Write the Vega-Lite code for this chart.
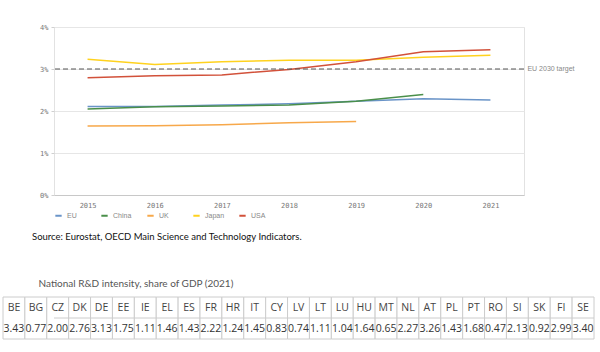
{
  "$schema": "https://vega.github.io/schema/vega-lite/v6.json",
  "padding": {"left": 2, "top": 22, "right": 0, "bottom": 0},
  "columns": 1,
  "align": "none",
  "spacing": 36,
  "resolve": {"legend": {"color": "independent"}, "scale": {"color": "independent"}},
  "config": {"view": {"stroke": null}},
  "datasets": {
    "lines": [
      {"country": "EU", "year": "2015", "value": 2.11},
      {"country": "EU", "year": "2016", "value": 2.11},
      {"country": "EU", "year": "2017", "value": 2.14},
      {"country": "EU", "year": "2018", "value": 2.17},
      {"country": "EU", "year": "2019", "value": 2.23},
      {"country": "EU", "year": "2020", "value": 2.29},
      {"country": "EU", "year": "2021", "value": 2.26},
      {"country": "China", "year": "2015", "value": 2.05},
      {"country": "China", "year": "2016", "value": 2.10},
      {"country": "China", "year": "2017", "value": 2.12},
      {"country": "China", "year": "2018", "value": 2.14},
      {"country": "China", "year": "2019", "value": 2.23},
      {"country": "China", "year": "2020", "value": 2.39},
      {"country": "UK", "year": "2015", "value": 1.64},
      {"country": "UK", "year": "2016", "value": 1.65},
      {"country": "UK", "year": "2017", "value": 1.67},
      {"country": "UK", "year": "2018", "value": 1.72},
      {"country": "UK", "year": "2019", "value": 1.75},
      {"country": "Japan", "year": "2015", "value": 3.23},
      {"country": "Japan", "year": "2016", "value": 3.11},
      {"country": "Japan", "year": "2017", "value": 3.17},
      {"country": "Japan", "year": "2018", "value": 3.21},
      {"country": "Japan", "year": "2019", "value": 3.21},
      {"country": "Japan", "year": "2020", "value": 3.28},
      {"country": "Japan", "year": "2021", "value": 3.33},
      {"country": "USA", "year": "2015", "value": 2.79},
      {"country": "USA", "year": "2016", "value": 2.84},
      {"country": "USA", "year": "2017", "value": 2.86},
      {"country": "USA", "year": "2018", "value": 2.99},
      {"country": "USA", "year": "2019", "value": 3.17},
      {"country": "USA", "year": "2020", "value": 3.41},
      {"country": "USA", "year": "2021", "value": 3.46}
    ],
    "target": [{"target": 3, "label": "EU 2030 target"}],
    "table": [
      {"code": "BE", "value": 3.43}, {"code": "BG", "value": 0.77}, {"code": "CZ", "value": 2.00},
      {"code": "DK", "value": 2.76}, {"code": "DE", "value": 3.13}, {"code": "EE", "value": 1.75},
      {"code": "IE", "value": 1.11}, {"code": "EL", "value": 1.46}, {"code": "ES", "value": 1.43},
      {"code": "FR", "value": 2.22}, {"code": "HR", "value": 1.24}, {"code": "IT", "value": 1.45},
      {"code": "CY", "value": 0.83}, {"code": "LV", "value": 0.74}, {"code": "LT", "value": 1.11},
      {"code": "LU", "value": 1.04}, {"code": "HU", "value": 1.64}, {"code": "MT", "value": 0.65},
      {"code": "NL", "value": 2.27}, {"code": "AT", "value": 3.26}, {"code": "PL", "value": 1.43},
      {"code": "PT", "value": 1.68}, {"code": "RO", "value": 0.47}, {"code": "SI", "value": 2.13},
      {"code": "SK", "value": 0.92}, {"code": "FI", "value": 2.99}, {"code": "SE", "value": 3.40}
    ]
  },
  "concat": [
    {
      "width": 470,
      "height": 168,
      "view": {"stroke": "#e2e2e2"},
      "title": {
        "text": "Source: Eurostat, OECD Main Science and Technology Indicators.",
        "orient": "bottom", "anchor": "start", "frame": "group", "dx": -22, "offset": 12,
        "font": "Lato", "fontSize": 9.5, "fontWeight": "normal", "color": "#111"
      },
      "layer": [
        {
          "data": {"name": "lines"},
          "mark": {"type": "line", "strokeWidth": 1.5},
          "encoding": {
            "x": {
              "field": "year", "type": "ordinal",
              "axis": {"title": null, "labelAngle": 0, "ticks": false, "domain": true, "domainColor": "#c8c8c8",
                       "labelFont": "DejaVu Sans Mono", "labelFontSize": 7, "labelColor": "#777", "labelPadding": 6}
            },
            "y": {
              "field": "value", "type": "quantitative",
              "scale": {"domain": [0, 4]},
              "axis": {"title": null, "values": [0, 0.5, 1, 1.5, 2, 2.5, 3, 3.5, 4],
                       "labelExpr": "datum.value % 1 === 0 ? datum.value + '%' : ''",
                       "grid": true, "gridColor": "#e6e6e6", "domain": false,
                       "ticks": true, "tickSize": 3, "tickColor": "#d0d0d0",
                       "labelFont": "DejaVu Sans Mono", "labelFontSize": 7, "labelColor": "#777",
                       "labelPadding": 3, "minExtent": 51}
            },
            "color": {
              "field": "country", "type": "nominal",
              "scale": {"domain": ["EU", "China", "UK", "Japan", "USA"],
                        "range": ["#6a94c8", "#4a8f4a", "#f7a84a", "#ffd21e", "#d2513a"]},
              "legend": {"orient": "bottom", "direction": "horizontal", "title": null, "columns": 5,
                         "gridAlign": "all", "symbolType": "stroke", "symbolSize": 40, "symbolStrokeWidth": 2,
                         "labelFont": "Liberation Sans", "labelFontSize": 7, "labelColor": "#888",
                         "labelOffset": 4, "columnPadding": 10, "offset": 3, "padding": 0}
            }
          }
        },
        {
          "data": {"name": "target"},
          "mark": {"type": "rule", "strokeDash": [5, 3], "color": "#555", "strokeWidth": 1},
          "encoding": {"y": {"field": "target", "type": "quantitative"}}
        },
        {
          "data": {"name": "target"},
          "mark": {"type": "text", "align": "left", "baseline": "middle", "dx": 37, "fontSize": 7,
                   "font": "Liberation Sans", "color": "#888"},
          "encoding": {
            "x": {"datum": "2021", "type": "ordinal"},
            "y": {"field": "target", "type": "quantitative"},
            "text": {"field": "label"}
          }
        }
      ]
    },
    {
      "width": 540,
      "height": 42,
      "title": {
        "text": "National R&D intensity, share of GDP (2021)",
        "anchor": "start", "frame": "bounds", "dx": 36, "offset": 8,
        "font": "Lato", "fontSize": 10, "fontWeight": "normal", "color": "#555"
      },
      "data": {"name": "table"},
      "layer": [
        {
          "mark": {"type": "rect", "fill": "white", "stroke": "#cccccc", "strokeWidth": 1},
          "encoding": {
            "x": {"field": "code", "type": "nominal", "sort": null,
                  "scale": {"paddingInner": 0, "paddingOuter": 0, "range": [-51, 540]}, "axis": null},
            "y": {"datum": 0, "type": "quantitative", "scale": {"domain": [0, 1]}, "axis": null},
            "y2": {"datum": 1}
          }
        },
        {
          "data": {"values": [{"mid": 0.5}]},
          "mark": {"type": "rule", "color": "#cccccc", "strokeWidth": 1},
          "encoding": {"y": {"field": "mid", "type": "quantitative"}}
        },
        {
          "mark": {"type": "text", "font": "Open Sans", "fontSize": 10.5, "color": "#444", "baseline": "middle"},
          "encoding": {
            "x": {"field": "code", "type": "nominal", "sort": null},
            "y": {"datum": 0.75, "type": "quantitative"},
            "text": {"field": "code"}
          }
        },
        {
          "mark": {"type": "text", "font": "Open Sans", "fontSize": 10.5, "color": "#333", "baseline": "middle"},
          "encoding": {
            "x": {"field": "code", "type": "nominal", "sort": null},
            "y": {"datum": 0.25, "type": "quantitative"},
            "text": {"field": "value", "format": ".2f"}
          }
        }
      ]
    }
  ]
}
